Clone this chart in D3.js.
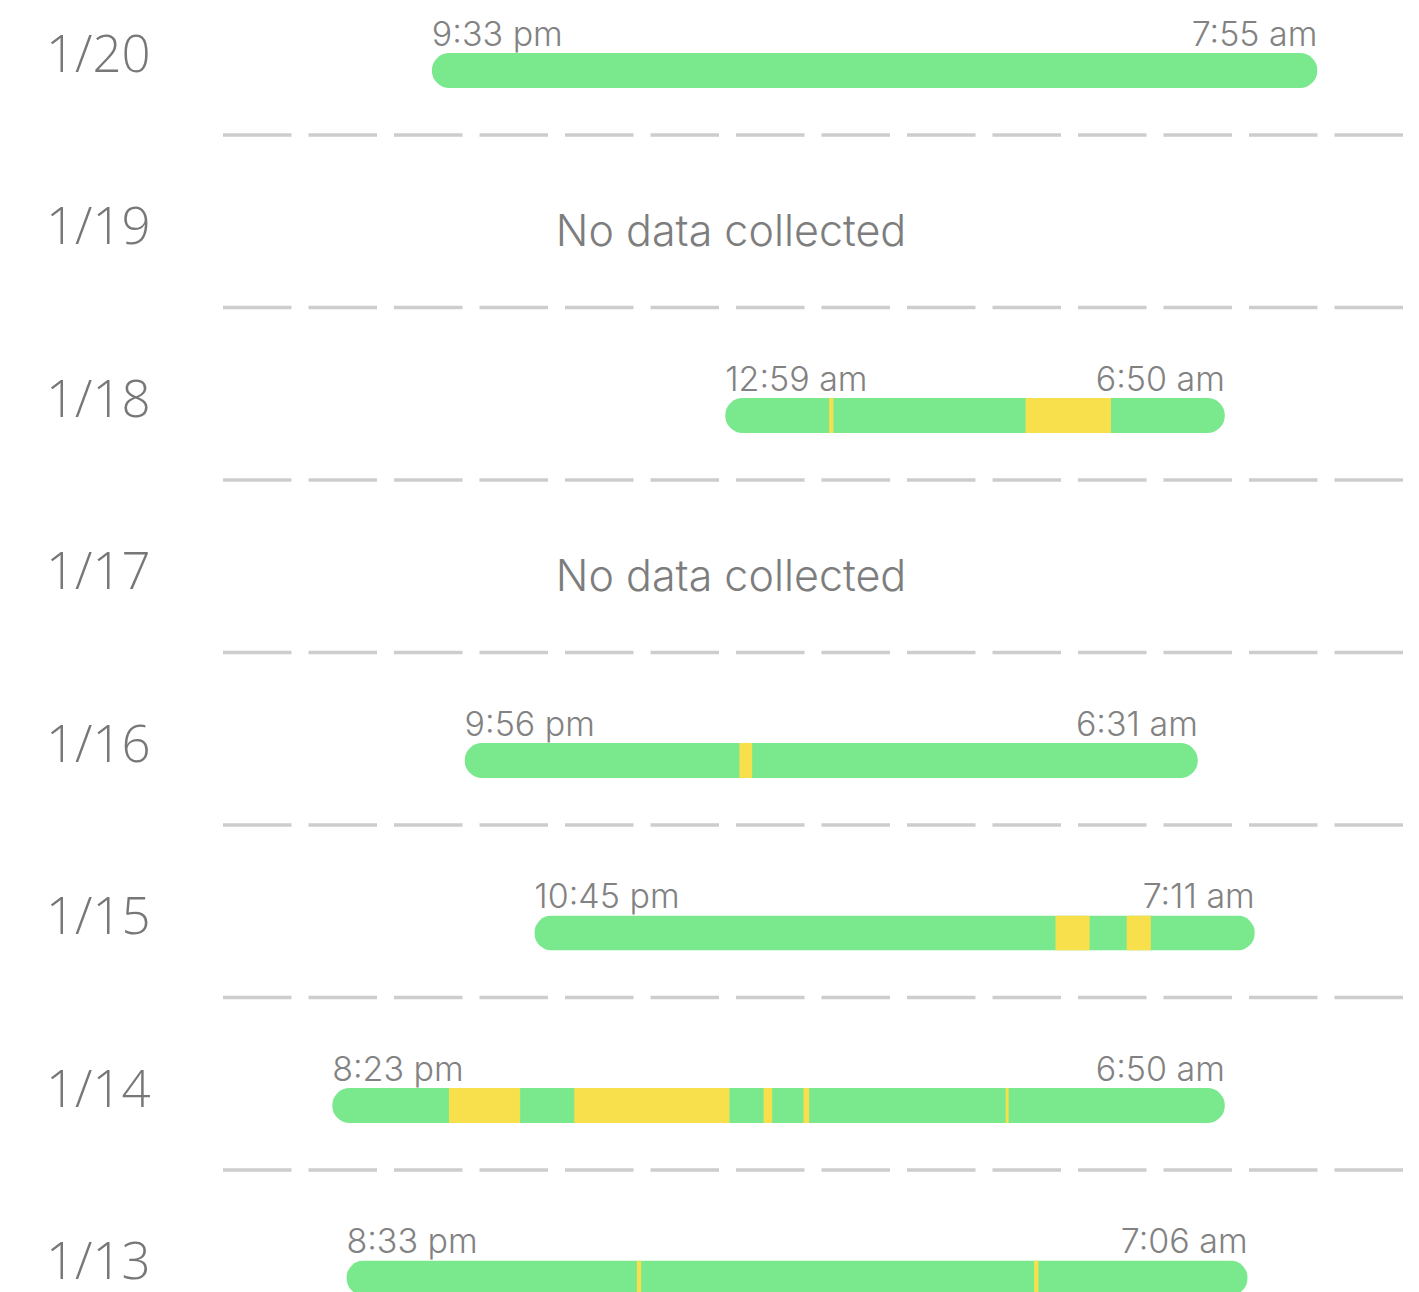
<!DOCTYPE html>
<html>
<head>
<meta charset="utf-8">
<script src="https://cdn.jsdelivr.net/npm/d3@7"></script>
<style>
  html, body { margin: 0; padding: 0; background: #ffffff; }
  svg { display: block; }
  text { font-family: Inter, "Open Sans", "Liberation Sans", Arial, sans-serif; }
  text.night { font-family: "Open Sans", Inter, "Liberation Sans", Arial, sans-serif; }
</style>
</head>
<body>
<svg id="chart" width="1419" height="1292"></svg>
<script>
// Nights, most recent first
const nights = ["1/20", "1/19", "1/18", "1/17", "1/16", "1/15", "1/14", "1/13"];

// Time asleep (null = nothing recorded)
const sleepStart = ["9:33 pm", null, "12:59 am", null, "9:56 pm", "10:45 pm", "8:23 pm", "8:33 pm"];
const sleepEnd   = ["7:55 am", null, "6:50 am",  null, "6:31 am", "7:11 am",  "6:50 am", "7:06 am"];

// Restless / awake spans within each night
const awakeSpans = [
  [],
  [],
  [["2:12 am", "2:15 am"], ["4:30 am", "5:30 am"]],
  [],
  [["1:09 am", "1:18 am"]],
  [["4:51 am", "5:15 am"], ["5:41 am", "5:58 am"]],
  [["9:45 pm", "10:35 pm"], ["11:13 pm", "1:02 am"], ["1:26 am", "1:32 am"], ["1:54 am", "1:58 am"], ["4:16 am", "4:18 am"]],
  [["11:57 pm", "12:00 am"], ["4:36 am", "4:39 am"]]
];

const emptyLabel = "No data collected";
const axisStart = "7:00 pm";
const axisEnd = "9:00 am";

const svg = d3.select("#chart");

// Clock strings -> points on one night's timeline (morning times roll to next day)
const parseClock = d3.timeParse("%I:%M %p");
function toNight(str) {
  const t = parseClock(str.toUpperCase());
  const d = new Date(2000, 0, 1, t.getHours(), t.getMinutes());
  if (t.getHours() < 12) d.setDate(d.getDate() + 1);
  return d;
}
const fmtClock = d => d3.timeFormat("%-I:%M %p")(d).toLowerCase();

const x = d3.scaleTime()
  .domain([toNight(axisStart), toNight(axisEnd)])
  .range([214, 1410]);

const rowStep = 172.5;
const y = d3.scalePoint()
  .domain(nights)
  .range([70.5, 70.5 + rowStep * (nights.length - 1)]);

const barH = 35;
const green = "#7ae88d";
const yellow = "#f8df4c";

const rows = nights.map((n, i) => ({
  night: n,
  start: sleepStart[i] ? toNight(sleepStart[i]) : null,
  end: sleepEnd[i] ? toNight(sleepEnd[i]) : null,
  awake: awakeSpans[i].map(s => [toNight(s[0]), toNight(s[1])])
}));

// Dashed separators below each row
svg.append("g")
  .selectAll("line")
  .data(rows)
  .join("line")
  .attr("x1", 223)
  .attr("x2", 1405)
  .attr("y1", d => y(d.night) + 64.5)
  .attr("y2", d => y(d.night) + 64.5)
  .attr("stroke", "#cdcdcd")
  .attr("stroke-width", 3.5)
  .attr("stroke-dasharray", "68.5 17");

// Date labels
svg.append("g")
  .selectAll("text")
  .data(rows)
  .join("text")
  .attr("class", "night")
  .attr("x", 46)
  .attr("y", d => y(d.night) + 1)
  .attr("font-size", 51)
  .attr("font-weight", 300)
  .attr("fill", "#777777")
  .text(d => d.night);

const defs = svg.append("defs");
const g = svg.append("g");

rows.forEach((r, i) => {
  const cy = y(r.night);
  if (!r.start) {
    g.append("text")
      .attr("x", 731)
      .attr("y", cy + 3)
      .attr("text-anchor", "middle")
      .attr("font-size", 43)
      .attr("font-weight", 300)
      .attr("fill", "#7d7d7d")
      .text(emptyLabel);
    return;
  }
  const x0 = x(r.start), x1 = x(r.end);
  const clipId = "bar-clip-" + i;
  defs.append("clipPath").attr("id", clipId)
    .append("rect")
    .attr("x", x0).attr("y", cy - barH / 2)
    .attr("width", x1 - x0).attr("height", barH)
    .attr("rx", barH / 2).attr("ry", barH / 2);

  const bar = g.append("g").attr("clip-path", `url(#${clipId})`);
  bar.append("rect")
    .attr("x", x0).attr("y", cy - barH / 2)
    .attr("width", x1 - x0).attr("height", barH)
    .attr("fill", green);
  bar.selectAll("rect.awake")
    .data(r.awake)
    .join("rect")
    .attr("class", "awake")
    .attr("x", d => x(d[0]))
    .attr("y", cy - barH / 2)
    .attr("width", d => Math.max(3, x(d[1]) - x(d[0])))
    .attr("height", barH)
    .attr("fill", yellow);

  g.append("text")
    .attr("x", x0)
    .attr("y", cy - 25)
    .attr("font-size", 34)
    .attr("font-weight", 300)
    .attr("fill", "#828282")
    .text(fmtClock(r.start));
  g.append("text")
    .attr("x", x1)
    .attr("y", cy - 25)
    .attr("text-anchor", "end")
    .attr("font-size", 34)
    .attr("font-weight", 300)
    .attr("fill", "#828282")
    .text(fmtClock(r.end));
});
</script>
</body>
</html>
